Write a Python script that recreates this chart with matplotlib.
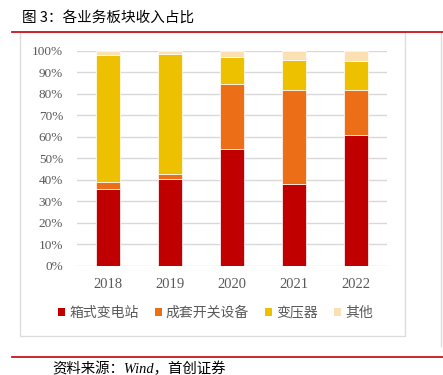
import matplotlib
matplotlib.use("Agg")
import matplotlib.pyplot as plt
from matplotlib.patches import Patch, Rectangle
from matplotlib.lines import Line2D
from matplotlib.ticker import FuncFormatter
import numpy as np

years = ["2018", "2019", "2020", "2021", "2022"]
series_names = ["箱式变电站", "成套开关设备", "变压器", "其他"]
box_sub = [35.8, 40.5, 54.1, 38.1, 60.9]
switchgear = [3.3, 2.3, 30.6, 43.8, 20.7]
transformer = [58.9, 55.7, 12.5, 13.8, 13.7]
other = [2.0, 1.5, 2.8, 4.3, 4.7]
colors = ["#C00000", "#EC6E16", "#EEC100", "#FAE0B2"]

W, H = 443, 375
fig = plt.figure(figsize=(W / 100, H / 100), dpi=100)
cjk = ["Noto Sans CJK SC", "DejaVu Sans"]

def fx(px):
    return px / W

def fy(py):
    return 1 - py / H

# frame lines
fig.add_artist(Rectangle((fx(20), fy(336)), fx(405) - fx(20), fy(32) - fy(336),
                         transform=fig.transFigure, fill=False, edgecolor="#DCDCDC", lw=1))
fig.add_artist(Line2D([fx(441), fx(441)], [fy(32), fy(346)], transform=fig.transFigure,
                      color="#DCDCDC", lw=1))
fig.add_artist(Line2D([fx(12), fx(443)], [fy(32), fy(32)], transform=fig.transFigure,
                      color="#C8141E", lw=1.3))
fig.add_artist(Line2D([fx(12), fx(443)], [fy(357), fy(357)], transform=fig.transFigure,
                      color="#C8141E", lw=1.3))

fig.text(fx(22), fy(18), "图 3：各业务板块收入占比", family=cjk, fontsize=10.5,
         color="black", ha="left", va="center")
fig.text(fx(52), fy(369), "资料来源：Wind，首创证券", family=["Liberation Serif", "Noto Sans CJK SC"],
         style="italic", fontsize=10.4, color="black", ha="left", va="center")

ax = fig.add_axes([fx(77), fy(265.7), fx(387) - fx(77), fy(50.7) - fy(265.7)])
x = np.arange(len(years))
bottom = np.zeros(len(years))
handles = []
for vals, name, c in zip([box_sub, switchgear, transformer, other], series_names, colors):
    v = np.array(vals) / 100.0
    ax.bar(x, v, width=0.39, bottom=bottom, color=c, edgecolor="white", linewidth=0.5,
           zorder=3, label=name)
    bottom += v
    handles.append(Patch(facecolor=c, edgecolor="none", label=name))

ax.set_xlim(-0.5, len(years) - 0.5)
ax.set_ylim(0, 1.0)
ax.set_yticks(np.arange(0, 1.01, 0.1))
ax.yaxis.set_major_formatter(FuncFormatter(lambda v, p: f"{v*100:.0f}%"))
ax.set_xticks(x)
ax.set_xticklabels(years)
ax.grid(axis="y", color="#D9D9D9", lw=1, zorder=0)
ax.set_axisbelow(True)
for s in ax.spines.values():
    s.set_visible(False)
ax.tick_params(axis="both", length=0, colors="#595959")
ax.tick_params(axis="y", pad=10)
ax.tick_params(axis="x", pad=9)
for lab in ax.get_yticklabels():
    lab.set_family("Liberation Serif")
    lab.set_fontsize(9.5)
for lab in ax.get_xticklabels():
    lab.set_family("Liberation Serif")
    lab.set_fontsize(10.5)

leg = fig.legend(handles=handles, loc="center", bbox_to_anchor=(fx(215.5), fy(313)),
                 ncol=4, frameon=False, handlelength=0.5, handleheight=0.5,
                 handletextpad=0.3, columnspacing=1.15, prop={"family": cjk, "size": 10})
for t in leg.get_texts():
    t.set_color("#595959")

fig.savefig("out.png", dpi=100)
